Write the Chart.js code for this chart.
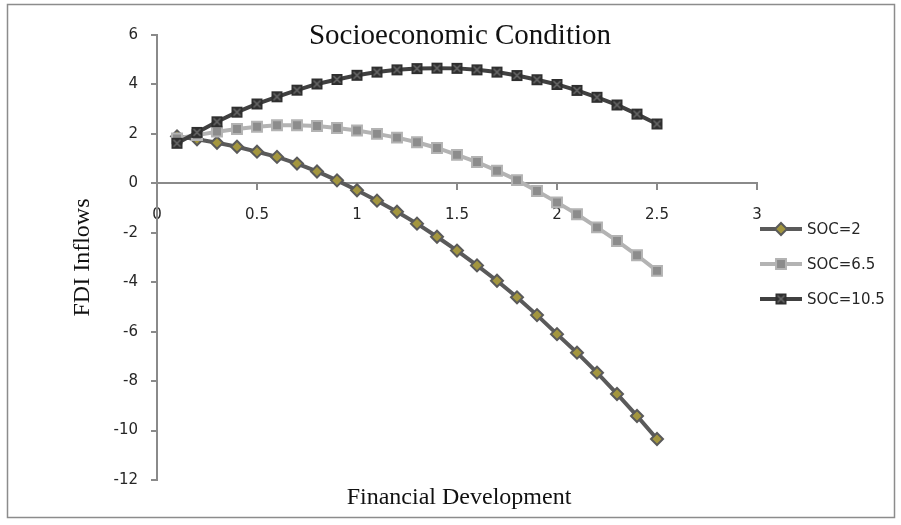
<!DOCTYPE html>
<html lang="en">
<head>
  <meta charset="UTF-8">
  <title>Socioeconomic Condition</title>
  <script src="https://cdn.jsdelivr.net/npm/chart.js"></script>
  <style>
    body { margin: 0; background: #fff; }
    canvas { display: block; }
  </style>
</head>
<body>
  <canvas id="grafico" width="901" height="525"></canvas>

  <script>
    // valores
    const fd = [0.1, 0.2, 0.3, 0.4, 0.5, 0.6, 0.7, 0.8, 0.9, 1.0, 1.1, 1.2, 1.3,
                1.4, 1.5, 1.6, 1.7, 1.8, 1.9, 2.0, 2.1, 2.2, 2.3, 2.4, 2.5];
    const soc2 = [1.9, 1.78, 1.64, 1.48, 1.28, 1.07, 0.8, 0.48, 0.12, -0.28, -0.7, -1.15, -1.63,
                  -2.16, -2.72, -3.32, -3.94, -4.61, -5.33, -6.1, -6.85, -7.66, -8.52, -9.41, -10.34];
    const soc65 = [1.82, 1.95, 2.09, 2.2, 2.29, 2.35, 2.35, 2.32, 2.24, 2.14, 2.0, 1.85, 1.66,
                   1.43, 1.15, 0.86, 0.51, 0.13, -0.31, -0.77, -1.25, -1.78, -2.33, -2.91, -3.54];
    const soc105 = [1.62, 2.06, 2.49, 2.88, 3.21, 3.5, 3.77, 4.02, 4.2, 4.37, 4.5, 4.59, 4.64,
                    4.66, 4.65, 4.59, 4.5, 4.36, 4.19, 4.0, 3.76, 3.48, 3.17, 2.8, 2.4];
    const seriesNames = ['SOC=2', 'SOC=6.5', 'SOC=10.5'];

    const eixoCor = '#8a8a8a';
    const textoCor = '#262626';
    const serif = '"Liberation Serif", "Times New Roman", serif';
    const sans = '"DejaVu Sans", sans-serif';

    // marcador quadrado com X para SOC=10.5
    function marcadorX() {
      const c = document.createElement('canvas');
      c.width = 13; c.height = 13;
      const g = c.getContext('2d');
      g.fillStyle = '#2e2e2e';
      g.fillRect(1, 1, 11, 11);
      g.strokeStyle = '#6a6a6a';
      g.lineWidth = 1.5;
      g.beginPath();
      g.moveTo(3, 3); g.lineTo(10, 10);
      g.moveTo(10, 3); g.lineTo(3, 10);
      g.stroke();
      return c;
    }

    const pontos = (ys) => fd.map((x, i) => ({ x: x, y: ys[i] }));

    const datasets = [
      { label: seriesNames[0], data: pontos(soc2), order: 3,
        borderColor: '#5a5a5a', borderWidth: 4,
        pointStyle: 'rectRot', pointRadius: 6, pointBorderWidth: 2,
        pointBackgroundColor: '#a3963f', pointBorderColor: '#5a5a5a' },
      { label: seriesNames[1], data: pontos(soc65), order: 2,
        borderColor: '#b3b3b3', borderWidth: 4,
        pointStyle: 'rect', pointRadius: 7, pointBorderWidth: 2,
        pointBackgroundColor: '#8c8c8c', pointBorderColor: '#b3b3b3' },
      { label: seriesNames[2], data: pontos(soc105), order: 1,
        borderColor: '#404040', borderWidth: 4,
        pointStyle: marcadorX(), pointRadius: 6,
        pointBackgroundColor: '#2e2e2e', pointBorderColor: '#2e2e2e' }
    ];

    // título, título do eixo x, legenda e moldura
    const extras = {
      id: 'extras',
      beforeDraw(chart) {
        const ctx = chart.ctx;
        ctx.save();
        ctx.strokeStyle = '#8c8c8c';
        ctx.lineWidth = 1.5;
        ctx.strokeRect(7.5, 4.5, 887, 513);
        ctx.restore();
      },
      afterDraw(chart) {
        const ctx = chart.ctx;
        const area = chart.chartArea;
        const cx = (area.left + area.right) / 2 + 2;
        ctx.save();
        ctx.fillStyle = '#111';
        ctx.textAlign = 'center';
        ctx.textBaseline = 'alphabetic';
        ctx.font = '29px ' + serif;
        ctx.fillText('Socioeconomic Condition', cx + 1, 44);
        ctx.font = '24px ' + serif;
        ctx.fillText('Financial Development', cx, 504);

        // legenda
        const linhas = [229, 264, 299];
        chart.data.datasets.forEach((ds, i) => {
          const y = linhas[i];
          ctx.strokeStyle = ds.borderColor;
          ctx.lineWidth = ds.borderWidth;
          ctx.beginPath();
          ctx.moveTo(760, y);
          ctx.lineTo(802, y);
          ctx.stroke();
          ctx.fillStyle = ds.pointBackgroundColor;
          ctx.strokeStyle = ds.pointBorderColor;
          ctx.lineWidth = ds.pointBorderWidth || 1;
          Chart.helpers.drawPoint(ctx, {
            pointStyle: ds.pointStyle, radius: ds.pointRadius,
            rotation: 0, borderWidth: ds.pointBorderWidth || 0
          }, 781, y);
          ctx.fillStyle = textoCor;
          ctx.font = '15px ' + sans;
          ctx.textAlign = 'left';
          ctx.textBaseline = 'middle';
          ctx.fillText(ds.label, 807, y + 1);
        });
        ctx.restore();
      }
    };

    new Chart(document.getElementById('grafico'), {
      type: 'line',
      data: { datasets: datasets },
      options: {
        responsive: false,
        animation: false,
        layout: { padding: { left: 0, top: 35, right: 144, bottom: 45 } },
        plugins: { legend: { display: false }, tooltip: { enabled: false } },
        scales: {
          x: {
            type: 'linear',
            min: 0, max: 3,
            position: { y: 0 },
            ticks: {
              stepSize: 0.5, padding: 17, color: textoCor, font: { family: sans, size: 15 },
              callback: (v) => String(Math.round(v * 10) / 10)
            },
            grid: { drawOnChartArea: false, drawTicks: true, tickLength: 6, color: eixoCor, lineWidth: 2 },
            border: { color: eixoCor, width: 2 }
          },
          y: {
            type: 'linear',
            min: -12, max: 6,
            position: 'left',
            afterFit(scale) { scale.width = 157; },
            ticks: { stepSize: 2, padding: 13, color: textoCor, font: { family: sans, size: 15 } },
            grid: { drawOnChartArea: false, drawTicks: true, tickLength: 6, color: eixoCor, lineWidth: 2 },
            border: { color: eixoCor, width: 2 },
            title: {
              display: true, text: 'FDI Inflows', color: '#111',
              font: { family: serif, size: 24 },
              padding: { top: 68, bottom: 0 }
            }
          }
        }
      },
      plugins: [extras]
    });
  </script>
</body>
</html>
